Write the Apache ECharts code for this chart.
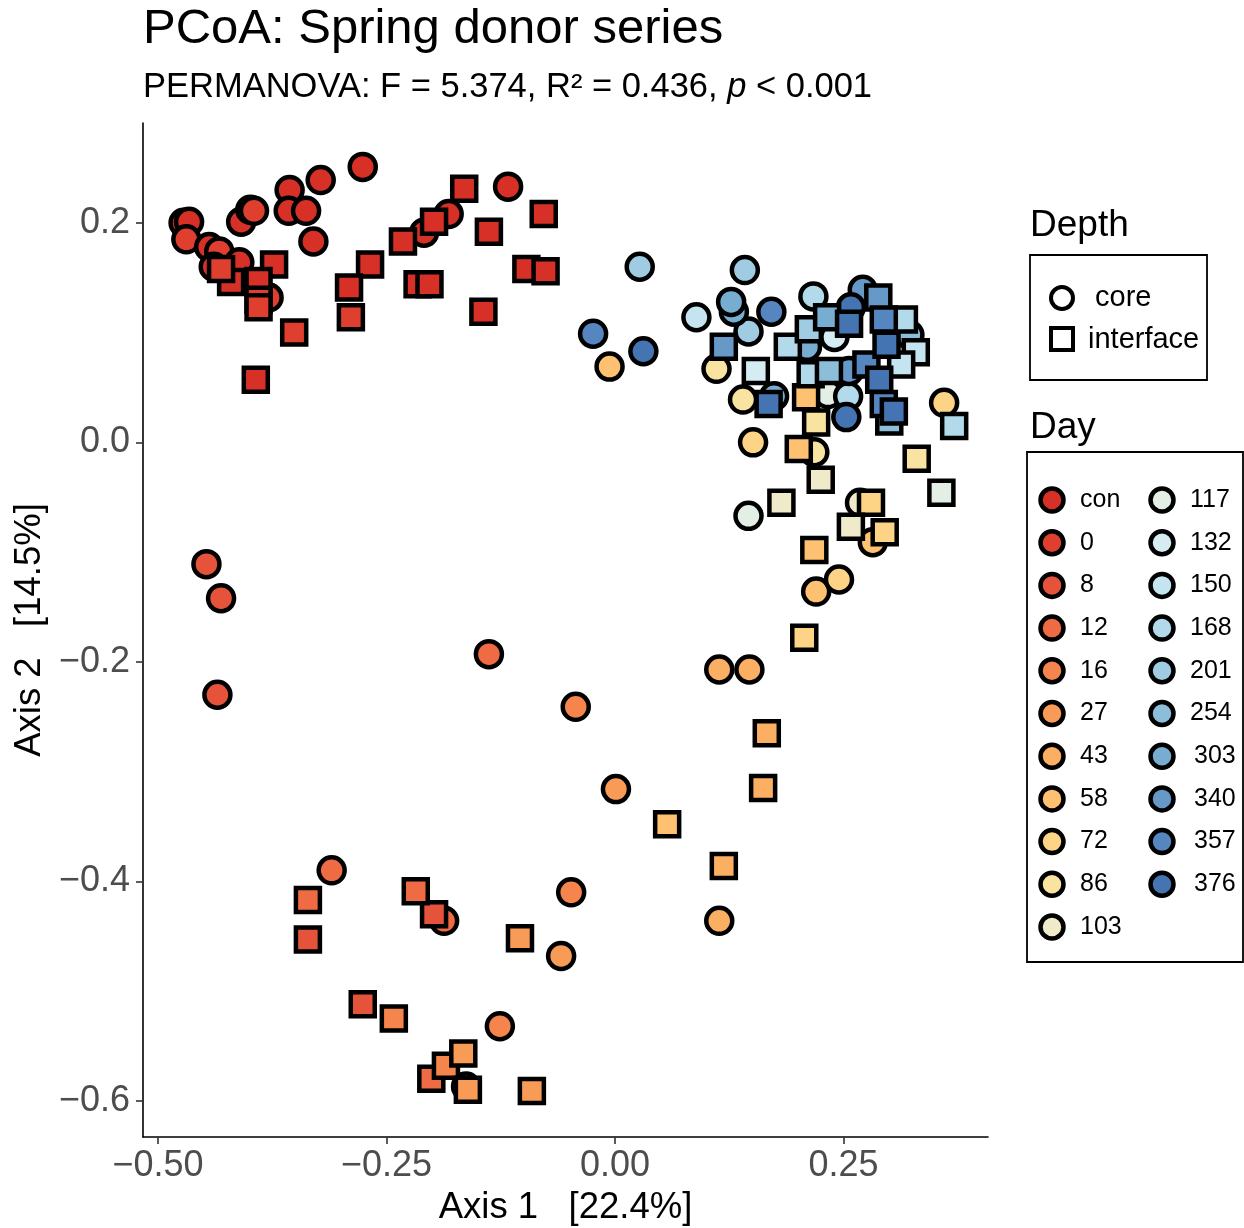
<!DOCTYPE html>
<html>
<head>
<meta charset="utf-8">
<script src="https://cdn.jsdelivr.net/npm/echarts@6/dist/echarts.min.js"></script>
<style>
html, body { margin: 0; background: #fff; }
#chart { width: 1244px; height: 1228px; }
</style>
</head>
<body>
<div id="chart"></div>
<script>
// day levels and their fill colours
var days = ['con', '0', '8', '12', '16', '27', '43', '58', '72', '86', '103',
	'117', '132', '150', '168', '201', '254', '303', '340', '357', '376'];
var dayColors = ['#D73027', '#DE3F2E', '#E4533A', '#EF6B43', '#F5854D', '#F89B57', '#FBAF63',
	'#FDC171', '#FDD486', '#F8E3A0', '#EFEACA', '#E3EEE4', '#D5ECF3', '#C4E4EF', '#B2DAEA',
	'#9FCCE2', '#8CBEDA', '#78ADD2', '#6699C8', '#5686C0', '#4574B3'];
var depths = ['core', 'interface'];

var xTicks = [-0.5, -0.25, 0, 0.25];
var yTicks = [-0.6, -0.4, -0.2, 0, 0.2];

// [day, Axis 1, Axis 2]
var corePoints = [
	['con', -0.472, 0.200], ['con', -0.466, 0.201], ['0', -0.469, 0.185], ['con', -0.444, 0.178],
	['0', -0.433, 0.174], ['con', -0.439, 0.160], ['con', -0.409, 0.201], ['con', -0.399, 0.212],
	['0', -0.395, 0.211], ['con', -0.411, 0.164], ['con', -0.356, 0.230], ['con', -0.357, 0.211],
	['con', -0.338, 0.211], ['con', -0.330, 0.183], ['con', -0.322, 0.239], ['con', -0.276, 0.251],
	['0', -0.379, 0.132], ['con', -0.182, 0.208], ['con', -0.209, 0.191], ['con', -0.117, 0.233],
	['8', -0.447, -0.111], ['8', -0.431, -0.142], ['8', -0.435, -0.230],
	['12', -0.138, -0.193], ['12', -0.310, -0.390], ['12', -0.187, -0.436],
	['16', -0.043, -0.241], ['16', -0.048, -0.410], ['16', -0.126, -0.532],
	['27', 0.001, -0.316], ['27', -0.059, -0.468], ['27', -0.163, -0.587],
	['43', 0.114, -0.207], ['43', 0.147, -0.207], ['43', 0.114, -0.436],
	['58', -0.006, 0.069], ['58', 0.282, -0.091], ['58', 0.220, -0.136],
	['72', 0.151, 0.000], ['72', 0.245, -0.125], ['72', 0.360, 0.036],
	['86', 0.111, 0.067], ['86', 0.140, 0.039], ['86', 0.218, -0.009],
	['103', 0.268, -0.055],
	['117', 0.146, -0.067], ['117', 0.233, 0.044],
	['132', 0.240, 0.096],
	['150', 0.089, 0.114],
	['168', 0.217, 0.133], ['168', 0.255, 0.042],
	['201', 0.027, 0.160], ['201', 0.142, 0.157], ['201', 0.146, 0.101],
	['254', 0.322, 0.098],
	['303', 0.130, 0.119], ['303', 0.127, 0.128], ['303', 0.174, 0.042], ['303', 0.210, 0.087],
	['340', 0.256, 0.065], ['340', 0.271, 0.139],
	['357', -0.024, 0.099], ['357', 0.171, 0.119],
	['376', 0.031, 0.083], ['376', 0.253, 0.023], ['376', 0.258, 0.123]
];

var interfacePoints = [
	['con', -0.165, 0.231], ['con', -0.198, 0.201], ['con', -0.232, 0.183], ['con', -0.138, 0.192],
	['con', -0.078, 0.208], ['con', -0.268, 0.162], ['con', -0.291, 0.141], ['con', -0.216, 0.144],
	['con', -0.203, 0.144], ['con', -0.097, 0.158], ['con', -0.076, 0.156], ['con', -0.144, 0.119],
	['con', -0.373, 0.162], ['con', -0.390, 0.147], ['con', -0.420, 0.146], ['con', -0.393, 0.057],
	['0', -0.289, 0.114], ['0', -0.351, 0.100], ['0', -0.390, 0.130], ['0', -0.390, 0.123], ['0', -0.431, 0.158],
	['8', -0.336, -0.453], ['8', -0.198, -0.430], ['8', -0.276, -0.512],
	['12', -0.336, -0.417], ['12', -0.218, -0.409], ['12', -0.201, -0.580],
	['16', -0.242, -0.525], ['16', -0.185, -0.568],
	['27', -0.104, -0.452], ['27', -0.166, -0.557], ['27', -0.161, -0.590], ['27', -0.091, -0.591],
	['43', 0.166, -0.265], ['43', 0.162, -0.315], ['43', 0.119, -0.386],
	['58', 0.057, -0.348], ['58', 0.201, -0.006], ['58', 0.218, -0.098], ['58', 0.209, 0.041],
	['72', 0.207, -0.178], ['72', 0.280, -0.055], ['72', 0.295, -0.082],
	['86', 0.220, 0.018], ['86', 0.330, -0.015],
	['103', 0.225, -0.034], ['103', 0.182, -0.055], ['103', 0.258, -0.077],
	['117', 0.357, -0.046],
	['132', 0.154, 0.065],
	['150', 0.329, 0.082], ['150', 0.313, 0.071],
	['168', 0.189, 0.087], ['168', 0.214, 0.062], ['168', 0.371, 0.015], ['168', 0.316, 0.112],
	['201', 0.212, 0.103],
	['254', 0.300, 0.019], ['254', 0.234, 0.065],
	['303', 0.232, 0.114],
	['340', 0.119, 0.087], ['340', 0.288, 0.132],
	['357', 0.294, 0.112], ['357', 0.294, 0.035], ['357', 0.275, 0.071],
	['376', 0.168, 0.035], ['376', 0.256, 0.108], ['376', 0.297, 0.089], ['376', 0.289, 0.057], ['376', 0.305, 0.028]
];

function colorOf(day) {
	return dayColors[days.indexOf(day)];
}

var points = [];
corePoints.forEach(function (p) {
	points.push({ value: [p[1], p[2]], symbol: 'circle', symbolSize: 26, itemStyle: { color: colorOf(p[0]) } });
});
interfacePoints.forEach(function (p) {
	points.push({ value: [p[1], p[2]], symbol: 'rect', symbolSize: 24, itemStyle: { color: colorOf(p[0]) } });
});

function fmt(d) {
	return function (v) {
		return (v < 0 ? '\u2212' : '') + Math.abs(v).toFixed(d);
	};
}

// legends drawn by hand (shape legend + colour legend)
var graphics = [];
graphics.push({ type: 'text', left: 1030, top: 207, style: { text: 'Depth', fontSize: 37, fill: '#000', fontFamily: 'Liberation Sans' } });
graphics.push({ type: 'rect', shape: { x: 1030, y: 255, width: 177, height: 125 }, style: { fill: '#fff', stroke: '#000', lineWidth: 1.8 } });
graphics.push({ type: 'circle', shape: { cx: 1062, cy: 298, r: 11 }, style: { fill: 'none', stroke: '#000', lineWidth: 4 } });
graphics.push({ type: 'rect', shape: { x: 1051, y: 328, width: 22, height: 22 }, style: { fill: 'none', stroke: '#000', lineWidth: 4 } });
graphics.push({ type: 'text', x: 1095, y: 298, style: { text: depths[0], fontSize: 29, fill: '#000', verticalAlign: 'middle', fontFamily: 'Liberation Sans' } });
graphics.push({ type: 'text', x: 1088, y: 340, style: { text: depths[1], fontSize: 29, fill: '#000', verticalAlign: 'middle', fontFamily: 'Liberation Sans' } });

graphics.push({ type: 'text', left: 1030, top: 409, style: { text: 'Day', fontSize: 37, fill: '#000', fontFamily: 'Liberation Sans' } });
graphics.push({ type: 'rect', shape: { x: 1027, y: 452, width: 216, height: 510 }, style: { fill: '#fff', stroke: '#000', lineWidth: 1.8 } });
days.forEach(function (d, i) {
	var col = i < 11 ? 0 : 1;
	var row = col === 0 ? i : i - 11;
	var cy = 500 + row * 42.7;
	var cx = col === 0 ? 1052 : 1162;
	var tx = col === 0 ? 1080 : (d.length === 3 && parseInt(d, 10) >= 300 ? 1194 : 1190);
	graphics.push({ type: 'circle', shape: { cx: cx, cy: cy, r: 11.5 }, style: { fill: dayColors[i], stroke: '#000', lineWidth: 4.5 } });
	graphics.push({ type: 'text', x: tx, y: cy, style: { text: d, fontSize: 25, fill: '#000', verticalAlign: 'middle', fontFamily: 'Liberation Sans' } });
});

var chart = echarts.init(document.getElementById('chart'));
chart.setOption({
	animation: false,
	textStyle: { fontFamily: 'Liberation Sans' },
	title: {
		text: 'PCoA: Spring donor series',
		subtext: 'PERMANOVA: F = 5.374, R\u00b2 = 0.436, {i|p} < 0.001',
		left: 138,
		top: 0,
		itemGap: 16,
		textStyle: { fontSize: 49, fontWeight: 'normal', color: '#000' },
		subtextStyle: {
			fontSize: 34.5, color: '#000',
			rich: { i: { fontSize: 34.5, fontStyle: 'italic', color: '#000' } }
		}
	},
	grid: { left: 143, top: 123, width: 845, height: 1014, outerBoundsMode: 'none', containLabel: false },
	xAxis: {
		type: 'value',
		min: -0.5164,
		max: 0.408,
		splitLine: { show: false },
		axisLine: { onZero: false, lineStyle: { color: '#000', width: 1.6 } },
		axisTick: { length: 7, customValues: xTicks, lineStyle: { color: '#333', width: 1.6 } },
		axisLabel: { customValues: xTicks, fontSize: 36, color: '#4D4D4D', margin: 11, formatter: fmt(2) },
		name: 'Axis 1   [22.4%]',
		nameLocation: 'middle',
		nameGap: 52,
		nameTextStyle: { fontSize: 36.5, color: '#000' }
	},
	yAxis: {
		type: 'value',
		min: -0.633,
		max: 0.291,
		splitLine: { show: false },
		axisLine: { onZero: false, lineStyle: { color: '#000', width: 1.6 } },
		axisTick: { length: 7, customValues: yTicks, lineStyle: { color: '#333', width: 1.6 } },
		axisLabel: { customValues: yTicks, fontSize: 36, color: '#4D4D4D', margin: 13, formatter: fmt(1) },
		name: 'Axis 2   [14.5%]',
		nameLocation: 'middle',
		nameGap: 94,
		nameTextStyle: { fontSize: 36.5, color: '#000' }
	},
	series: [{
		type: 'scatter',
		data: points,
		itemStyle: { borderColor: '#000', borderWidth: 4.5, opacity: 1 },
		emphasis: { disabled: true }
	}],
	graphic: graphics
});
</script>
</body>
</html>
